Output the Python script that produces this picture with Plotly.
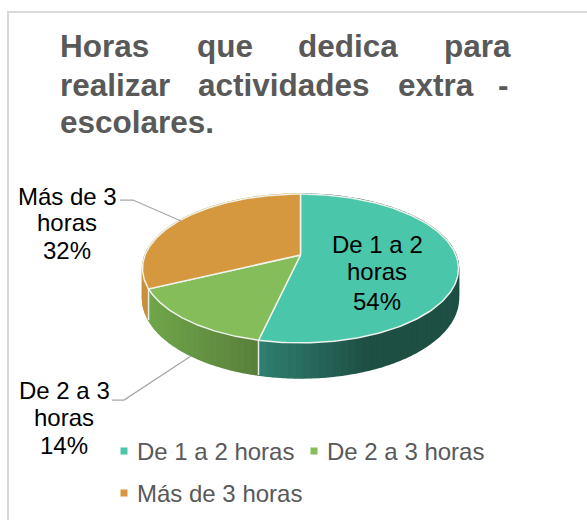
import numpy as np
import plotly.graph_objects as go

# ---- data ----
categories = ["De 1 a 2 horas", "De 2 a 3 horas", "Más de 3 horas"]
values = [15, 4, 9]
top_colors = ["#4AC7AB", "#84BD59", "#D6983F"]
wall_left = ["#2F7F70", "#70A64A", "#C8903C"]
wall_right = ["#1E4F43", "#587F3A", "#C8903C"]
title_lines = [["Horas", "que", "dedica", "para"],
               ["realizar", "actividades", "extra", "-"],
               ["escolares."]]
title_word_x = [[58, 195, 296, 442], [58, 196, 396, 496], [58]]
title_y = [46, 85, 122]

# ---- projection of the tilted disc ----
CX, CY = 300.5, 255
K, A, B = 0.181, 72.0, 155.4
DEPTH0 = 28.7


def project(theta):
    u, v = np.sin(theta), np.cos(theta)
    w = 1 + K * v
    return CX + B * u / w, CY - A * v / w


def wall_depth(theta):
    return DEPTH0 / (1 + K * np.cos(theta))


total = sum(values)
fractions = [v / total for v in values]
edges = np.concatenate([[0], np.cumsum(fractions)]) * 2 * np.pi


def mix(c1, c2, t):
    a = [int(c1[i:i + 2], 16) for i in (1, 3, 5)]
    b = [int(c2[i:i + 2], 16) for i in (1, 3, 5)]
    return "rgb(%d,%d,%d)" % tuple(round(x + (y - x) * t) for x, y in zip(a, b))


fig = go.Figure()

# side wall, drawn as thin shaded strips
for i in range(len(values)):
    th = np.linspace(edges[i], edges[i + 1], max(int((edges[i + 1] - edges[i]) / 0.04), 2) + 1)
    xs_all, _ = project(th)
    lo, hi = xs_all.min(), xs_all.max()
    for a, b in zip(th[:-1], th[1:]):
        seg = np.linspace(a, b, 3)
        x, y = project(seg)
        xm = x.mean()
        if i == 0:
            t = min(max((xm - 259) / 110, 0), 1)
        else:
            t = (xm - lo) / max(hi - lo, 1)
        col = mix(wall_left[i], wall_right[i], t)
        fig.add_trace(go.Scatter(
            x=np.concatenate([x, x[::-1]]),
            y=np.concatenate([y, (y + wall_depth(seg))[::-1]]),
            mode="lines", fill="toself", fillcolor=col, line=dict(color=col, width=1.5),
            hoverinfo="skip", showlegend=False))

# separators on the wall
for e in edges:
    x, y = project(np.array([e]))
    fig.add_trace(go.Scatter(x=[x[0], x[0]], y=[y[0], y[0] + wall_depth(e)], mode="lines",
                             line=dict(color="#E4EDE6", width=1.5),
                             hoverinfo="skip", showlegend=False))

# top faces
for i, name in enumerate(categories):
    th = np.linspace(edges[i], edges[i + 1], 160)
    x, y = project(th)
    fig.add_trace(go.Scatter(
        x=np.concatenate([[CX], x, [CX]]), y=np.concatenate([[CY], y, [CY]]),
        mode="lines", fill="toself", fillcolor=top_colors[i],
        line=dict(color="#EEF3EC", width=1.5), name=name, showlegend=False))


def note(x, y, text, size=24, color="#000000", anchor="center", bold=False):
    fig.add_annotation(x=x, y=y, xref="x", yref="y", text=f"<b>{text}</b>" if bold else text,
                       showarrow=False, xanchor=anchor, yanchor="middle",
                       font=dict(family="Liberation Sans", size=size, color=color))


# title, justified word by word
for words, xs, y in zip(title_lines, title_word_x, title_y):
    for w, x in zip(words, xs):
        note(x, y, w, size=31.5, color="#595959", anchor="left", bold=True)

# data labels
pct = [f"{round(f * 100)}%" for f in fractions]
label_pos = [(377, [244, 271, 301]), (64, [390, 417, 445]), (67, [196, 222, 250])]
label_lines = [["De 1 a 2", "horas"], ["De 2 a 3", "horas"], ["Más de 3", "horas"]]
for i, (cx, ys) in enumerate(label_pos):
    for t, y in zip(label_lines[i] + [pct[i]], ys):
        note(cx, y, t)

# leader lines
for xs, ys in [([120, 133, 181], [200, 200, 221]), ([112, 124, 191], [400, 400, 356])]:
    fig.add_trace(go.Scatter(x=xs, y=ys, mode="lines", line=dict(color="#A6A6A6", width=1.25),
                             hoverinfo="skip", showlegend=False))

# legend
legend_pos = [(124, 451), (314, 451), (124, 493)]
for i, (x, y) in enumerate(legend_pos):
    fig.add_trace(go.Scatter(x=[x], y=[y], mode="markers", showlegend=False, hoverinfo="skip",
                             marker=dict(symbol="square", size=7, color=top_colors[i])))
    note(x + 11, y, categories[i], size=24, color="#595959", anchor="left")

fig.update_layout(
    width=587, height=520, margin=dict(l=0, r=0, t=0, b=0),
    paper_bgcolor="white", plot_bgcolor="white",
    xaxis=dict(range=[0, 587], visible=False, fixedrange=True),
    yaxis=dict(range=[520, 0], visible=False, fixedrange=True),
    shapes=[dict(type="rect", xref="x", yref="y", x0=8, y0=12, x1=620, y1=560,
                 line=dict(color="#D9D9D9", width=2), layer="below")],
)
fig.write_html("out.html", config={"displayModeBar": False},
               post_script="document.body.style.margin='0';document.body.style.overflow='hidden';")
